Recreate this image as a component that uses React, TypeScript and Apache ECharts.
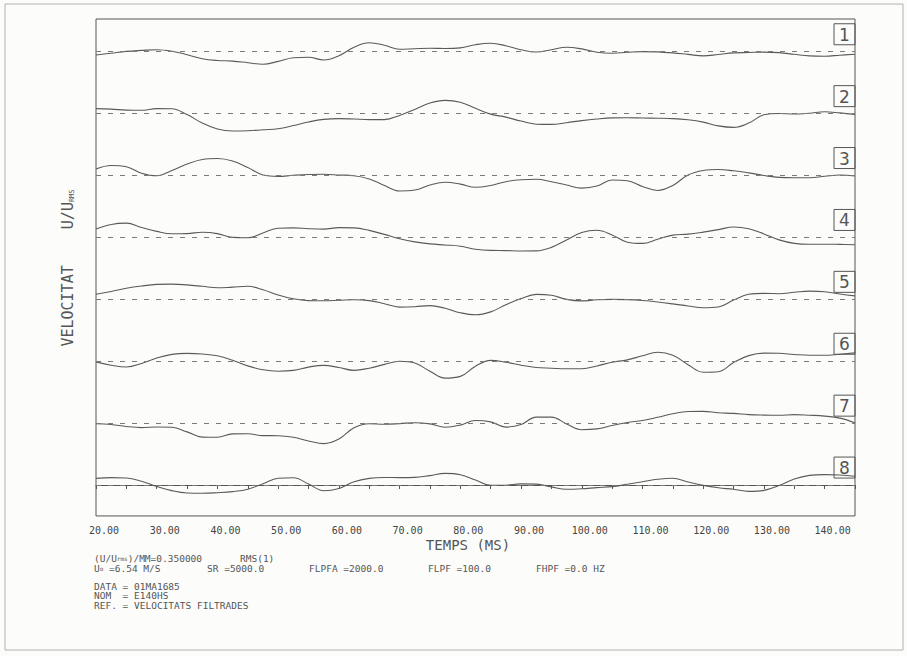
import React, { useEffect, useRef } from 'react';
import * as echarts from 'echarts';

// Time axis (ms)
const TIME_MS = [
  20, 22.5, 25, 27.5, 30, 32.5, 35, 37.5, 40, 42.5, 45, 47.5, 50, 52.5, 55, 57.5,
  60, 62.5, 65, 67.5, 70, 72.5, 75, 77.5, 80, 82.5, 85, 87.5, 90, 92.5, 95, 97.5,
  100, 102.5, 105, 107.5, 110, 112.5, 115, 117.5, 120, 122.5, 125, 127.5, 130,
  132.5, 135, 137.5, 140, 142.5, 145,
];

// Trace deflections (plot units)
const TRACE_1 = [-3.3, -1.5, 0.3, 1.3, 2, 0.5, -3, -7, -8.8, -9.4, -11, -12.6, -9.7, -6, -5.6, -8.3, -4, 4.5, 9, 6.5, 2.5, 3, 3.4, 3.2, 3.8, 7, 8.4, 6, 2, -0.3, 2, 4.4, 2.8, -0.5, -1.5, -0.6, 0.1, -0.2, -1.2, -2.7, -4.2, -2.8, -1.2, -0.8, -0.4, -0.9, -2.6, -4.2, -4.5, -3.5, -2.5];
const TRACE_2 = [5, 4.5, 3.5, 3.3, 5, 4.8, -1, -9.5, -15.5, -17.5, -17.2, -16.2, -15.2, -12, -8.4, -5.8, -5, -5.4, -6, -6, -1.8, 4.2, 10.6, 13.2, 11.4, 5.3, -0.5, -3.5, -7.5, -10.6, -10.8, -9.1, -7, -5.4, -4.3, -4.1, -4.4, -4.6, -5, -6.2, -8.5, -12.3, -13.8, -9.5, -1.2, 0.1, -0.4, 0.4, 1.8, 0.7, -0.8];
const TRACE_3 = [6.5, 10, 8.7, 2.3, -0.3, 5, 11.5, 16, 17, 14.5, 8, 0.5, -0.9, 0.2, 1, 1.2, 0.5, -0.3, -3.5, -10, -15.5, -14.6, -9.5, -6.8, -8.6, -11.8, -10, -6.2, -4.2, -3.8, -6.2, -9.6, -12.6, -10.6, -4.5, -5.2, -11, -15, -10, 0.5, 5, 6, 4.7, 2.6, 0, -1.9, -2.2, -2.2, -0.8, 0.5, -0.5];
const TRACE_4 = [8.4, 13, 14.3, 10, 6, 3.6, 3.8, 5.2, 3.8, 0, -0.4, 4.5, 9.2, 9.5, 8.7, 8.3, 9.8, 9.5, 7, 3, -1.3, -4.5, -6.5, -7.6, -8.8, -11.8, -13, -13.2, -13.6, -13.5, -10, -2.5, 5, 7.2, 2.5, -4.8, -6, -1.8, 2.3, 3.3, 5.3, 7.8, 10.4, 8.6, 3.5, -2.5, -6, -6.9, -6.8, -7, -7.3];
const TRACE_5 = [5, 7.8, 11, 13.3, 14.9, 15.2, 14.4, 13, 11.5, 12.2, 13, 9.6, 4.4, 0.5, -1.3, -1.5, -1, -0.4, -1.3, -4.4, -7.8, -7.4, -6.3, -9, -13.5, -15.5, -12.6, -5.5, 0.7, 4.9, 4, -0.1, -1.6, -0.5, -0.1, -0.3, -1.2, -2.7, -4.6, -6.7, -8.5, -7.7, -0.8, 5, 5.9, 5.6, 7, 8.2, 7.6, 5.3, 3.4];
const TRACE_6 = [-0.7, -4, -5.8, -2.3, 3.2, 6.8, 7.8, 7.2, 5.4, 1, -4.7, -8.6, -10, -9.2, -5.9, -4.2, -6.3, -9.2, -7, -3.2, 0, -1.8, -10, -17, -15.2, -5, 0.8, -1.1, -4, -6.3, -7, -7.6, -7.5, -4.8, -1, 1.3, 5.5, 9, 6, -3.5, -11, -10.5, -1.4, 5.6, 8.1, 7.9, 6.7, 5.9, 5.9, 7, 8.3];
const TRACE_7 = [-0.6, -1.4, -3.4, -4.5, -3.9, -4.2, -8.8, -14, -14.2, -10.8, -10.7, -12.5, -12.6, -14.2, -17.9, -20.6, -16, -4.6, -0.6, -1.1, -0.5, 0.4, -0.8, -4.1, -2, 2.6, 1.2, -4, -1.4, 6, 6, -0.8, -6.6, -5.8, -2.4, 0.6, 2.6, 5.8, 9.4, 11.6, 11.7, 10.4, 9.7, 8.5, 8, 7.8, 8.5, 7.9, 7, 5, 0.3];
const TRACE_8 = [6.6, 7.4, 7, 3.8, -1.4, -5.6, -8, -8.3, -7.7, -6.6, -4.2, 1.2, 6.8, 7.3, 1, -5.7, -3.5, 3.2, 6.6, 7.5, 7.4, 7.6, 9.4, 11.6, 10.3, 5, -0.4, -0.2, 1.1, 0.9, -1.9, -4.3, -3.8, -2.6, -1.6, 0.7, 3.2, 5.7, 6.8, 3, -0.4, -2.8, -4.3, -6.4, -5.4, -0.6, 6, 9.6, 10.4, 10, 8.7];

const TRACES = [TRACE_1, TRACE_2, TRACE_3, TRACE_4, TRACE_5, TRACE_6, TRACE_7, TRACE_8];
const TRACE_LABELS = ['1', '2', '3', '4', '5', '6', '7', '8'];

const X_MIN = 20;
const X_MAX = 145;
const X_STEP = 5;
const X_LABEL_STEP = 10;
const X_LABEL_LAST = 140;

const INFO_LINE_2 = [
  { x: 207, text: 'SR =5000.0' },
  { x: 309, text: 'FLPFA =2000.0' },
  { x: 428, text: 'FLPF =100.0' },
  { x: 536, text: 'FHPF =0.0 HZ' },
];
const META_LINES = ['DATA = 01MA1685', 'NOM  = E140HS', 'REF. = VELOCITATS FILTRADES'];

const MONO = '"DejaVu Sans Mono", "Liberation Mono", monospace';
const INK = '#555';
const INFO_SIZE = 9.5;

export default function App() {
  const ref = useRef<HTMLDivElement>(null);

  useEffect(() => {
    if (!ref.current) return;
    const chart = echarts.init(ref.current, undefined, { renderer: 'svg' });

    const left = 96;
    const width = 759;
    const top0 = 20.75;
    const bandH = 61.9;
    const n = TRACES.length;

    const grids: any[] = [];
    const xAxes: any[] = [];
    const yAxes: any[] = [];
    const series: any[] = [];
    const graphics: any[] = [];

    TRACES.forEach((tr, i) => {
      const last = i === n - 1;
      grids.push({ left, width, top: top0 + i * bandH, height: bandH });
      xAxes.push({
        type: 'value',
        gridIndex: i,
        min: X_MIN,
        max: X_MAX,
        interval: X_STEP,
        show: last,
        axisLine: { show: true, lineStyle: { color: INK, width: 1 } },
        axisTick: { show: true, length: 4, lineStyle: { color: INK, width: 1 } },
        splitLine: { show: false },
        axisLabel: {
          show: last,
          margin: 10,
          fontFamily: MONO,
          fontSize: 10,
          color: '#444',
          padding: [0, 0, 0, 16],
          formatter: (v: number) =>
            v % X_LABEL_STEP === 0 && v <= X_LABEL_LAST ? v.toFixed(2) : '',
        },
      });
      yAxes.push({ type: 'value', gridIndex: i, min: -31, max: 31, show: false });
      series.push({
        type: 'line',
        xAxisIndex: i,
        yAxisIndex: i,
        data: TIME_MS.map((t, k) => [t, tr[k]]),
        smooth: 0.4,
        symbol: 'none',
        showSymbol: false,
        lineStyle: { color: '#5a5a5a', width: 1.1 },
        markLine: {
          silent: true,
          symbol: 'none',
          label: { show: false },
          lineStyle: { type: [5, 7], color: '#7a7a7a', width: 1 },
          data: [{ yAxis: 0 }],
        },
      });

      const by = top0 + i * bandH + 3;
      graphics.push({
        type: 'rect',
        shape: { x: left + width - 21, y: by, width: 21, height: 21 },
        style: { fill: 'none', stroke: INK, lineWidth: 1 },
      });
      graphics.push({
        type: 'text',
        x: left + width - 10.5,
        y: by + 11,
        style: {
          text: TRACE_LABELS[i],
          fontFamily: '"DejaVu Sans", sans-serif',
          fontSize: 17,
          fill: '#555',
          align: 'center',
          verticalAlign: 'middle',
        },
      });
    });

    // outer page border and plot frame
    graphics.push({
      type: 'rect',
      shape: { x: 5, y: 4, width: 898, height: 646 },
      style: { fill: 'none', stroke: '#b0b0b0', lineWidth: 1 },
    });
    graphics.push({
      type: 'rect',
      shape: { x: left, y: 19, width, height: top0 + n * bandH - 19 },
      style: { fill: 'none', stroke: INK, lineWidth: 1 },
    });

    // y axis title
    graphics.push({
      type: 'text',
      x: 68,
      y: 268,
      rotation: Math.PI / 2,
      style: {
        text: '{a|VELOCITAT    U/U}{s|RMS}',
        align: 'center',
        verticalAlign: 'middle',
        rich: {
          a: { fontFamily: MONO, fontSize: 15, fill: INK, color: INK },
          s: { fontFamily: MONO, fontSize: 7, fill: INK, color: INK, verticalAlign: 'bottom', padding: [6, 0, 0, 0] },
        },
      },
    });

    // x axis title
    graphics.push({
      type: 'text',
      x: 468,
      y: 545,
      style: {
        text: 'TEMPS (MS)',
        fontFamily: MONO,
        fontSize: 14,
        fill: INK,
        align: 'center',
        verticalAlign: 'middle',
      },
    });

    // info lines
    graphics.push({
      type: 'text',
      x: 94,
      y: 558,
      style: {
        text: '{a|(U/U}{s|rms}{a|)/MM=0.350000}',
        verticalAlign: 'middle',
        rich: {
          a: { fontFamily: MONO, fontSize: INFO_SIZE, fill: INK, color: INK },
          s: { fontFamily: MONO, fontSize: 6, fill: INK, color: INK },
        },
      },
    });
    graphics.push({
      type: 'text',
      x: 240,
      y: 558,
      style: { text: 'RMS(1)', fontFamily: MONO, fontSize: INFO_SIZE, fill: INK, verticalAlign: 'middle' },
    });
    graphics.push({
      type: 'text',
      x: 94,
      y: 568,
      style: {
        text: '{a|U}{s|o}{a| =6.54 M/S}',
        verticalAlign: 'middle',
        rich: {
          a: { fontFamily: MONO, fontSize: INFO_SIZE, fill: INK, color: INK },
          s: { fontFamily: MONO, fontSize: 6, fill: INK, color: INK },
        },
      },
    });
    INFO_LINE_2.forEach((seg) => {
      graphics.push({
        type: 'text',
        x: seg.x,
        y: 568,
        style: { text: seg.text, fontFamily: MONO, fontSize: INFO_SIZE, fill: INK, verticalAlign: 'middle' },
      });
    });
    META_LINES.forEach((line, k) => {
      graphics.push({
        type: 'text',
        x: 94,
        y: 586 + k * 9.5,
        style: { text: line, fontFamily: MONO, fontSize: INFO_SIZE, fill: INK, verticalAlign: 'middle' },
      });
    });

    chart.setOption({
      animation: false,
      backgroundColor: '#fcfdfb',
      grid: grids,
      xAxis: xAxes,
      yAxis: yAxes,
      series,
      graphic: graphics,
    });

    return () => chart.dispose();
  }, []);

  return (
    <div
      ref={ref}
      style={{ position: 'absolute', left: 0, top: 0, width: 907, height: 656 }}
    />
  );
}
